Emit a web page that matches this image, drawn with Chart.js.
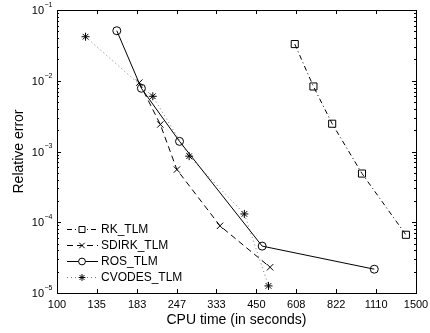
<!DOCTYPE html>
<html>
<head>
<meta charset="utf-8">
<script src="https://cdn.jsdelivr.net/npm/chart.js@4.4.0/dist/chart.umd.min.js"></script>
<style>
  html, body { margin: 0; padding: 0; background: #fff; }
  #wrap { width: 430px; height: 333px; }
</style>
</head>
<body>
<div id="wrap"><canvas id="errChart" width="430" height="333"></canvas></div>
<script>
// tick labels
const xTicks = [100, 135, 183, 247, 333, 450, 608, 822, 1110, 1500];
const yTicks = [1e-5, 1e-4, 1e-3, 1e-2, 1e-1];

// series: CPU time (s) vs relative error
const rkTime = [601, 692, 797, 998, 1390];
const rkErr = [0.033, 0.0083, 0.00247, 0.000488, 6.65e-5];

const sdirkTime = [186, 218, 247, 342, 499];
const sdirkErr = [0.0094, 0.00241, 0.000555, 8.9e-5, 2.31e-5];

const rosTime = [157, 189, 252, 470, 1095];
const rosErr = [0.0509, 0.00783, 0.00139, 4.6e-5, 2.17e-5];

const cvodesTime = [124, 206, 271, 411, 493];
const cvodesErr = [0.0419, 0.00603, 0.000859, 0.000131, 1.26e-5];

function pts(xs, ys) {
    return xs.map((x, i) => ({ x: x, y: ys[i] }));
}

const FONT = "Liberation Sans, Arial, Helvetica, sans-serif";

// MATLAB-style box, inward ticks and labels
const axesPlugin = {
    id: 'matlabAxes',
    afterDraw(chart) {
        const ctx = chart.ctx;
        const a = chart.chartArea;
        const xs = chart.scales.x, ys = chart.scales.y;
        ctx.save();
        ctx.strokeStyle = '#000';
        ctx.lineWidth = 1;
        ctx.setLineDash([]);
        ctx.strokeRect(a.left + 0.5, a.top + 0.5, a.right - a.left, a.bottom - a.top);

        ctx.beginPath();
        xTicks.forEach(v => {
            const px = Math.round(xs.getPixelForValue(v)) + 0.5;
            ctx.moveTo(px, a.bottom); ctx.lineTo(px, a.bottom - 4);
            ctx.moveTo(px, a.top); ctx.lineTo(px, a.top + 4);
        });
        for (let d = -5; d <= -1; d++) {
            for (let m = 1; m <= 9; m++) {
                const v = m * Math.pow(10, d);
                if (v > 0.1 + 1e-12) break;
                const py = Math.round(ys.getPixelForValue(v)) + 0.5;
                const len = m === 1 ? 4 : 2;
                ctx.moveTo(a.left, py); ctx.lineTo(a.left + len, py);
                ctx.moveTo(a.right, py); ctx.lineTo(a.right - len, py);
            }
        }
        ctx.stroke();

        ctx.fillStyle = '#000';
        ctx.font = '11px ' + FONT;
        ctx.textAlign = 'center';
        ctx.textBaseline = 'middle';
        xTicks.forEach(v => {
            ctx.fillText(String(v), xs.getPixelForValue(v), a.bottom + 12);
        });

        yTicks.forEach(v => {
            const py = ys.getPixelForValue(v);
            const e = Math.round(Math.log10(v));
            ctx.font = '11px ' + FONT;
            ctx.textAlign = 'right';
            ctx.textBaseline = 'middle';
            ctx.fillText('10', 44, py + 1);
            ctx.font = '7px ' + FONT;
            ctx.textAlign = 'left';
            ctx.fillText('\u2212' + Math.abs(e), 44.5, py - 5);
        });

        ctx.font = '14px ' + FONT;
        ctx.textAlign = 'center';
        ctx.textBaseline = 'middle';
        ctx.fillText('CPU time (in seconds)', (a.left + a.right) / 2, 320);
        ctx.translate(19, (a.top + a.bottom) / 2);
        ctx.rotate(-Math.PI / 2);
        ctx.fillText('Relative error', 0, 0);
        ctx.restore();

        // legend
        ctx.save();
        const rowY = [229, 245, 261, 277];
        chart.data.datasets.forEach((ds, i) => {
            const y = rowY[i];
            ctx.strokeStyle = ds.borderColor;
            ctx.lineWidth = 1;
            ctx.setLineDash(ds.borderDash || []);
            ctx.beginPath();
            ctx.moveTo(67, y + 0.5); ctx.lineTo(98, y + 0.5);
            ctx.stroke();
            ctx.setLineDash([]);
            ctx.strokeStyle = '#000';
            ctx.fillStyle = '#fff';
            Chart.helpers.drawPoint(ctx, {
                pointStyle: ds.pointStyle, radius: ds.pointRadius * 0.85,
                borderWidth: 1, rotation: 0
            }, 82, y + 0.5);
            ctx.fillStyle = '#000';
            ctx.font = '12px ' + FONT;
            ctx.textAlign = 'left';
            ctx.textBaseline = 'middle';
            ctx.fillText(ds.label, 101, y + 1);
        });
        ctx.restore();
    }
};

const common = {
    borderColor: '#000',
    borderWidth: 1,
    pointBorderColor: '#000',
    pointBackgroundColor: 'rgba(255,255,255,0)',
    pointBorderWidth: 1,
    fill: false,
    tension: 0
};

new Chart(document.getElementById('errChart').getContext('2d'), {
    type: 'line',
    data: {
        datasets: [
            Object.assign({}, common, { label: 'RK_TLM', data: pts(rkTime, rkErr), borderDash: [5, 3, 1, 3], pointStyle: 'rect', pointRadius: 5 }),
            Object.assign({}, common, { label: 'SDIRK_TLM', data: pts(sdirkTime, sdirkErr), borderDash: [6, 4], pointStyle: 'crossRot', pointRadius: 4.5 }),
            Object.assign({}, common, { label: 'ROS_TLM', data: pts(rosTime, rosErr), pointStyle: 'circle', pointRadius: 4 }),
            Object.assign({}, common, { label: 'CVODES_TLM', data: pts(cvodesTime, cvodesErr), borderColor: '#777', borderDash: [1, 3], pointStyle: 'star', pointRadius: 4 })
        ]
    },
    options: {
        responsive: false,
        animation: false,
        devicePixelRatio: 1,
        layout: { padding: { top: 10, right: 14, left: 0, bottom: 0 } },
        plugins: { legend: { display: false }, tooltip: { enabled: false } },
        scales: {
            x: {
                type: 'logarithmic', min: 100, max: 1500,
                grid: { display: false }, border: { display: false },
                ticks: { display: false },
                afterFit(s) { s.height = 40; }
            },
            y: {
                type: 'logarithmic', min: 1e-5, max: 1e-1,
                grid: { display: false }, border: { display: false },
                ticks: { display: false },
                afterFit(s) { s.width = 57; }
            }
        }
    },
    plugins: [axesPlugin]
});
</script>
</body>
</html>
